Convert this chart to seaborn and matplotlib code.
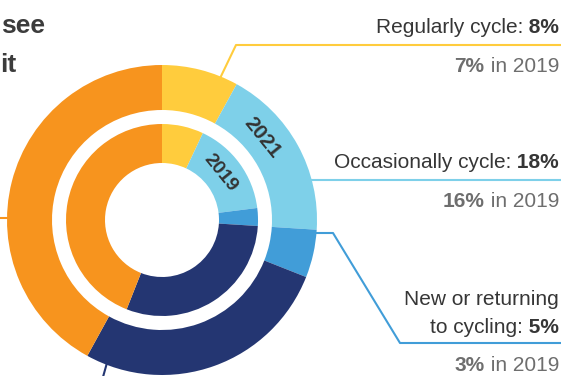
import matplotlib
matplotlib.use("Agg")
import matplotlib.pyplot as plt
import seaborn as sns

# Share of people in each cycling segment, outer ring 2021, inner ring 2019
segments = ["Regularly cycle", "Occasionally cycle", "New or returning to cycling",
            "Do not cycle but would like to", "Do not cycle"]
share_2021 = [8, 18, 5, 27, 42]
share_2019 = [7, 16, 3, 30, 44]
palette = ["#FFCC3D", "#7ED0E9", "#419DD8", "#243672", "#F7941E"]
ring_years = ["2021", "2019"]

sns.set_theme(style="white")
plt.rcParams["font.family"] = ["Liberation Sans", "DejaVu Sans"]

W, H = 561, 376
fig = plt.figure(figsize=(W / 100, H / 100), dpi=100)
ax = fig.add_axes([0, 0, 1, 1])


def Y(y):
    return H - y


cx, cy = 162, Y(220)

# leader lines (drawn beneath the rings)
line_kw = dict(lw=1.5, solid_capstyle="butt", zorder=1)
ax.plot([212, 236, W], [Y(95), Y(45), Y(45)], color=palette[0], **line_kw)
ax.plot([290, W], [Y(180), Y(180)], color=palette[1], **line_kw)
ax.plot([300, 333, 400, W], [Y(233), Y(233), Y(343), Y(343)], color=palette[2], **line_kw)
ax.plot([0, 20], [Y(218), Y(218)], color=palette[4], **line_kw)
ax.plot([103, 112], [Y(377), Y(345)], color=palette[3], **line_kw)

wedges_out, _ = ax.pie(share_2021, colors=palette, radius=155, center=(cx, cy),
                       startangle=90, counterclock=False,
                       wedgeprops=dict(width=45, linewidth=0))
wedges_in, _ = ax.pie(share_2019, colors=palette, radius=96, center=(cx, cy),
                      startangle=90, counterclock=False,
                      wedgeprops=dict(width=39, linewidth=0))
for w in wedges_out + wedges_in:
    w.set_zorder(2)

ax.set_xlim(0, W)
ax.set_ylim(0, H)
ax.set_aspect("equal")
ax.axis("off")

# ring year labels along the light-blue segment
ax.text(262, Y(138), ring_years[0], rotation=-51, ha="center", va="center",
        rotation_mode="anchor", fontsize=15, fontweight="bold", color="#333333", zorder=3)
ax.text(220, Y(173), ring_years[1], rotation=-51, ha="center", va="center",
        rotation_mode="anchor", fontsize=14, fontweight="bold", color="#333333", zorder=3)

renderer = fig.canvas.get_renderer()


def rich_right(x, y, parts, size=15):
    """Right-aligned line made of (text, weight, colour) pieces."""
    cur = x
    for text, weight, col in reversed(parts):
        t = ax.text(cur, Y(y), text, ha="right", va="baseline", fontsize=size,
                    fontweight=weight, color=col, zorder=4)
        cur -= t.get_window_extent(renderer).width


dark = "#363636"
grey = "#6E6E6E"
xr = 559

rich_right(xr, 33, [("Regularly cycle:", "normal", dark), (f" {share_2021[0]}%", "bold", dark)])
rich_right(xr, 72, [(f"{share_2019[0]}%", "bold", grey), (" in 2019", "normal", grey)])
rich_right(xr, 168, [("Occasionally cycle:", "normal", dark), (f" {share_2021[1]}%", "bold", dark)])
rich_right(xr, 207, [(f"{share_2019[1]}%", "bold", grey), (" in 2019", "normal", grey)])
rich_right(xr, 305, [("New or returning", "normal", dark)])
rich_right(xr, 333, [("to cycling:", "normal", dark), (f" {share_2021[2]}%", "bold", dark)])
rich_right(xr, 371, [(f"{share_2019[2]}%", "bold", grey), (" in 2019", "normal", grey)])

# heading fragment at the top-left
ax.text(1, Y(33), "see", ha="left", va="baseline", fontsize=19,
        fontweight="bold", color="#3C3C3C")
ax.text(0.5, Y(72), "it", ha="left", va="baseline", fontsize=19,
        fontweight="bold", color="#3C3C3C")

fig.savefig("out.png", dpi=100)
